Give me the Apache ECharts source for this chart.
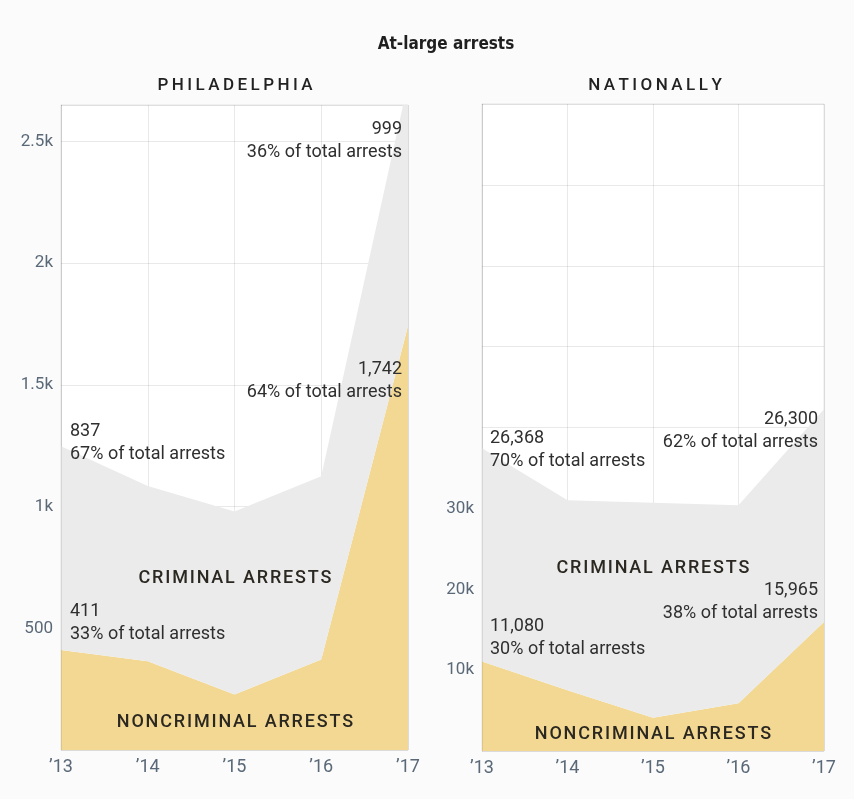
<!DOCTYPE html>
<html>
<head>
<meta charset="utf-8">
<title>At-large arrests</title>
<script src="https://cdn.jsdelivr.net/npm/echarts@6/dist/echarts.min.js"></script>
<style>
  html, body { margin: 0; padding: 0; background: #fafbfa; }
  #chart { width: 854px; height: 799px; }
</style>
</head>
<body>
<div id="chart"></div>
<script>
// Fiscal years on the horizontal axis
const years = ['\u201913', '\u201914', '\u201915', '\u201916', '\u201917'];

// Philadelphia field office, at-large arrests
const phlNoncriminal = [411, 365, 228, 372, 1742];
const phlCriminal = [837, 720, 752, 753, 999];

// Nationwide, at-large arrests
const natNoncriminal = [11080, 7500, 4100, 5900, 15965];
const natCriminal = [26368, 23500, 26600, 24500, 26300];

// Labelled ticks on each value axis
const phlTicks = [500, 1000, 1500, 2000, 2500];
const phlTickLabels = ['500', '1k', '1.5k', '2k', '2.5k'];
const natTicks = [10000, 20000, 30000];
const natTickLabels = ['10k', '20k', '30k'];

// Callout texts
const phlNotes = {
  crim13: ['837', '67% of total arrests'],
  non13: ['411', '33% of total arrests'],
  crim17: ['999', '36% of total arrests'],
  non17: ['1,742', '64% of total arrests']
};
const natNotes = {
  crim13: ['26,368', '70% of total arrests'],
  non13: ['11,080', '30% of total arrests'],
  crim17: ['26,300', '62% of total arrests'],
  non17: ['15,965', '38% of total arrests']
};

const YELLOW = '#f2d892';
const GREY = '#ebebeb';
const GRIDLINE = 'rgba(0,0,0,0.085)';
const AXIS_TEXT = '#5a6878';
const NOTE_TEXT = '#2f2f2f';
const FONT = 'Roboto, "Noto Sans", sans-serif';

// Spread the letters of a caption a little apart
function spaced(s, gap) {
  return s.split('').join(gap || '\u200A');
}

function tickFormatter(ticks, labels) {
  return function (v) {
    const i = ticks.indexOf(v);
    return i >= 0 ? labels[i] : '';
  };
}

function valueAxis(gridIndex, max, interval, ticks, labels) {
  return {
    type: 'value',
    gridIndex: gridIndex,
    min: 0,
    max: max,
    interval: interval,
    z: 3,
    axisLine: { show: true, lineStyle: { color: GRIDLINE, width: 1 } },
    axisTick: { show: false },
    splitLine: { show: true, lineStyle: { color: GRIDLINE, width: 1 } },
    axisLabel: {
      formatter: tickFormatter(ticks, labels),
      color: AXIS_TEXT,
      fontFamily: FONT,
      fontSize: 17,
      margin: 8,
      showMaxLabel: false
    }
  };
}

function categoryAxis(gridIndex) {
  return {
    type: 'category',
    gridIndex: gridIndex,
    data: years,
    boundaryGap: false,
    z: 3,
    axisLine: { show: false },
    axisTick: { show: false },
    splitLine: { show: true, lineStyle: { color: GRIDLINE, width: 1 } },
    axisLabel: {
      color: AXIS_TEXT,
      fontFamily: FONT,
      fontSize: 18,
      margin: 8,
      interval: 0
    }
  };
}

function areaSeries(name, idx, data, color, stack) {
  return {
    name: name,
    type: 'line',
    xAxisIndex: idx,
    yAxisIndex: idx,
    stack: stack,
    data: data,
    symbol: 'none',
    clip: true,
    lineStyle: { width: 0 },
    areaStyle: { color: color, opacity: 1 },
    emphasis: { disabled: true },
    silent: true
  };
}

function note(x, y, lines, align) {
  return {
    type: 'text',
    x: x,
    y: y,
    z: 10,
    style: {
      text: lines.join('\n'),
      fill: NOTE_TEXT,
      font: '18px ' + FONT,
      lineHeight: 23,
      align: align,
      verticalAlign: 'middle'
    }
  };
}

function caption(x, y, text) {
  return {
    type: 'text',
    x: x,
    y: y,
    z: 10,
    style: {
      text: spaced(text),
      fill: '#2b2721',
      font: '500 18px ' + FONT,
      align: 'center',
      verticalAlign: 'middle'
    }
  };
}

const chart = echarts.init(document.getElementById('chart'), null, { renderer: 'canvas' });

chart.setOption({
  backgroundColor: '#fafbfa',
  animation: false,
  grid: [
    { left: 61, top: 105, width: 347, height: 645, show: true, backgroundColor: '#ffffff', borderColor: GRIDLINE, borderWidth: 1 },
    { left: 482, top: 104, width: 342, height: 647, show: true, backgroundColor: '#ffffff', borderColor: GRIDLINE, borderWidth: 1 }
  ],
  xAxis: [categoryAxis(0), categoryAxis(1)],
  yAxis: [
    valueAxis(0, 2650, 500, phlTicks, phlTickLabels),
    valueAxis(1, 80000, 10000, natTicks, natTickLabels)
  ],
  series: [
    areaSeries('Noncriminal arrests', 0, phlNoncriminal, YELLOW, 'phl'),
    areaSeries('Criminal arrests', 0, phlCriminal, GREY, 'phl'),
    areaSeries('Noncriminal arrests', 1, natNoncriminal, YELLOW, 'nat'),
    areaSeries('Criminal arrests', 1, natCriminal, GREY, 'nat')
  ],
  graphic: [
    {
      type: 'text', x: 446, y: 45, z: 10,
      style: { text: 'At-large arrests', fill: '#1f1f1f', font: 'bold 17px "Liberation Sans Narrow", "DejaVu Sans Condensed", Roboto, sans-serif', align: 'center', verticalAlign: 'middle' }
    },
    {
      type: 'text', x: 235, y: 86, z: 10,
      style: { text: spaced('PHILADELPHIA', '\u2009'), fill: '#222222', font: '500 17px ' + FONT, align: 'center', verticalAlign: 'middle' }
    },
    {
      type: 'text', x: 655, y: 86, z: 10,
      style: { text: spaced('NATIONALLY', '\u2009'), fill: '#222222', font: '500 17px ' + FONT, align: 'center', verticalAlign: 'middle' }
    },

    note(70, 443, phlNotes.crim13, 'left'),
    note(70, 623, phlNotes.non13, 'left'),
    note(402, 141, phlNotes.crim17, 'right'),
    note(402, 381, phlNotes.non17, 'right'),
    caption(235, 578, 'CRIMINAL ARRESTS'),
    caption(235, 722, 'NONCRIMINAL ARRESTS'),

    note(490, 450, natNotes.crim13, 'left'),
    note(490, 638, natNotes.non13, 'left'),
    note(818, 431, natNotes.crim17, 'right'),
    note(818, 602, natNotes.non17, 'right'),
    caption(653, 568, 'CRIMINAL ARRESTS'),
    caption(653, 734, 'NONCRIMINAL ARRESTS')
  ]
});
</script>
</body>
</html>
